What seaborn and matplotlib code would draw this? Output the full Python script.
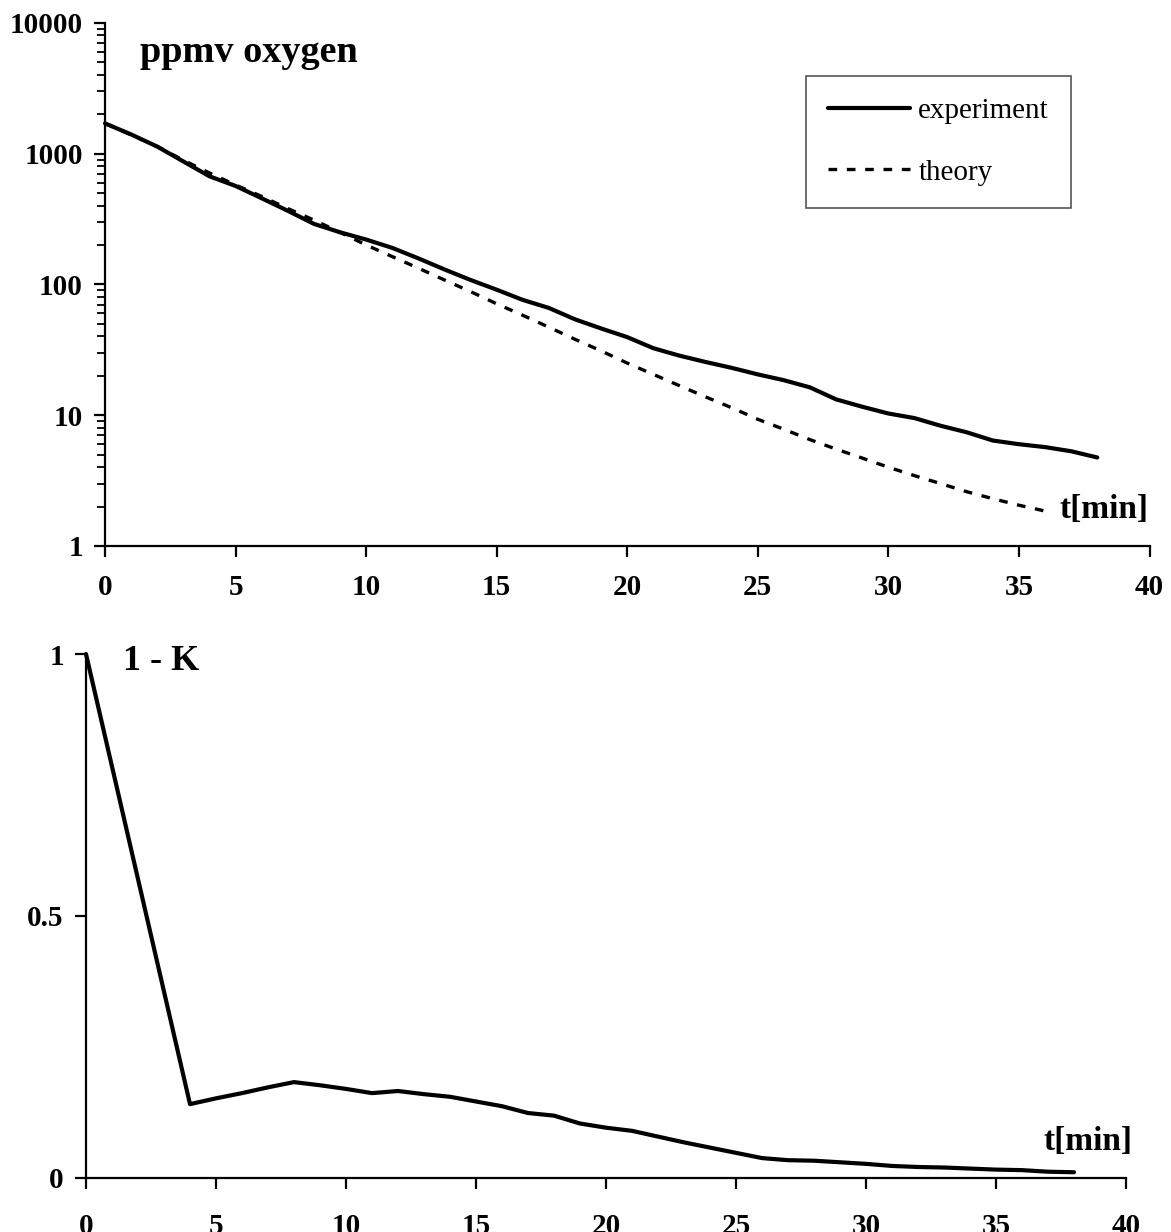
import numpy as np
import pandas as pd
import matplotlib
matplotlib.use("Agg")
import matplotlib.pyplot as plt
from matplotlib.ticker import FixedLocator, FixedFormatter, NullFormatter
from matplotlib.font_manager import FontProperties
import seaborn as sns

# Oxygen concentration (ppmv) versus time
t_exp = list(range(0, 39))
ppmv_exp = [1700, 1400, 1130, 870, 670, 565, 455, 365, 290, 250,
            220, 190, 158, 130, 108, 91, 76, 66, 54, 46,
            39.5, 32.5, 28.5, 25.5, 23, 20.5, 18.5, 16.3, 13.2, 11.6,
            10.3, 9.5, 8.3, 7.4, 6.4, 6.0, 5.7, 5.3, 4.75]

t_theory = list(range(0, 37))
ppmv_theory = [1700, 1390, 1130, 890, 710, 575, 470, 380, 310, 250,
               200, 163, 133, 108, 88, 71, 58, 47, 38, 31,
               25, 20.5, 16.8, 13.8, 11.4, 9.3, 7.8, 6.5, 5.5, 4.7,
               4.0, 3.45, 3.0, 2.6, 2.3, 2.05, 1.85]

# 1 - K versus time
t_k = [0] + list(range(4, 39))
one_minus_k = [1.0, 0.141, 0.152, 0.162, 0.173, 0.183, 0.177, 0.170, 0.162, 0.166,
               0.160, 0.155, 0.146, 0.137, 0.124, 0.119, 0.104, 0.096, 0.090, 0.079,
               0.068, 0.058, 0.048, 0.038, 0.034, 0.033, 0.030, 0.027, 0.023, 0.021,
               0.020, 0.018, 0.016, 0.015, 0.012, 0.011]

x_ticks = [0, 5, 10, 15, 20, 25, 30, 35, 40]
log_ticks = [1, 10, 100, 1000, 10000]
log_tick_labels = ["1", "10", "100", "1000", "10000"]
k_ticks = [0, 0.5, 1]
k_tick_labels = ["0", "0.5", "1"]

sns.set_style("ticks")
plt.rcParams["font.family"] = ["Liberation Serif", "DejaVu Serif"]
plt.rcParams["axes.linewidth"] = 1.6
for key in ("text.color", "xtick.color", "ytick.color", "axes.edgecolor", "axes.labelcolor"):
    plt.rcParams[key] = "black"

W, H = 1171, 1232
fig = plt.figure(figsize=(W / 100, H / 100), dpi=100)


def px_axes(left, top, right, bottom):
    return fig.add_axes([left / W, 1 - bottom / H, (right - left) / W, (bottom - top) / H])


ax1 = px_axes(105, 22.7, 1149.5, 546)
ax2 = px_axes(86, 654, 1126, 1178)

df_exp = pd.DataFrame({"t": t_exp, "ppmv": ppmv_exp})
df_th = pd.DataFrame({"t": t_theory, "ppmv": ppmv_theory})
df_k = pd.DataFrame({"t": t_k, "k": one_minus_k})

sns.lineplot(data=df_exp, x="t", y="ppmv", ax=ax1, color="black", lw=3.0,
             label="experiment", clip_on=False)
sns.lineplot(data=df_th, x="t", y="ppmv", ax=ax1, color="black", lw=2.4,
             linestyle=(0, (2.6, 2.9)), label="theory")
sns.lineplot(data=df_k, x="t", y="k", ax=ax2, color="black", lw=3.0, clip_on=False)

tick_font = dict(family="Liberation Serif", weight="bold", size=21)

# upper panel: logarithmic concentration
ax1.set_yscale("log")
ax1.set_xlim(0, 40)
ax1.set_ylim(1, 10000)
ax1.set_xticks(x_ticks)
ax1.set_xticklabels([str(v) for v in x_ticks], fontdict=tick_font)
ax1.yaxis.set_major_locator(FixedLocator(log_ticks))
ax1.yaxis.set_major_formatter(FixedFormatter(log_tick_labels))
minor = [m * 10 ** d for d in range(0, 4) for m in range(2, 10)]
ax1.yaxis.set_minor_locator(FixedLocator(minor))
ax1.yaxis.set_minor_formatter(NullFormatter())
for lab in ax1.get_yticklabels():
    lab.set_fontproperties(FontProperties(**tick_font))
ax1.tick_params(axis="x", direction="out", length=8, width=1.6, pad=12)
ax1.tick_params(axis="y", which="major", direction="out", length=8, width=1.6, pad=8)
ax1.tick_params(axis="y", which="minor", direction="out", length=6, width=1.3)
ax1.set_xlabel("")
ax1.set_ylabel("")

leg = ax1.legend(loc="upper left", bbox_to_anchor=(806 / W, 1 - 76 / H),
                 bbox_transform=fig.transFigure, frameon=True, fancybox=False,
                 prop=dict(family="Liberation Serif", size=21), handlelength=2.8,
                 handletextpad=0.3, labelspacing=1.2, borderpad=0.75,
                 borderaxespad=0)
leg.get_frame().set_edgecolor("#555555")
leg.get_frame().set_linewidth(1.2)
leg.get_frame().set_alpha(1)

# lower panel: 1 - K
ax2.set_xlim(0, 40)
ax2.set_ylim(0, 1)
ax2.set_xticks(x_ticks)
ax2.set_xticklabels([str(v) for v in x_ticks], fontdict=tick_font)
ax2.set_yticks(k_ticks)
ax2.set_yticklabels(k_tick_labels, fontdict=tick_font)
ax2.tick_params(axis="x", direction="out", length=8, width=1.6, pad=17)
ax2.tick_params(axis="y", direction="out", length=8, width=1.6, pad=8)
ax2.set_xlabel("")
ax2.set_ylabel("")

for ax in (ax1, ax2):
    sns.despine(ax=ax)

title_font = dict(family="Liberation Serif", weight="bold", color="black")
fig.text(140 / W, 1 - 62 / H, "ppmv oxygen", fontsize=27.5, va="baseline", ha="left", **title_font)
fig.text(123 / W, 1 - 670 / H, "1 - K", fontsize=26, va="baseline", ha="left", **title_font)
fig.text(1148 / W, 1 - 518 / H, "t[min]", fontsize=24, va="baseline", ha="right", **title_font)
fig.text(1133 / W, 1 - 1150 / H, "t[min]", fontsize=24, va="baseline", ha="right", **title_font)

fig.savefig("out.png", dpi=100, facecolor="white")
